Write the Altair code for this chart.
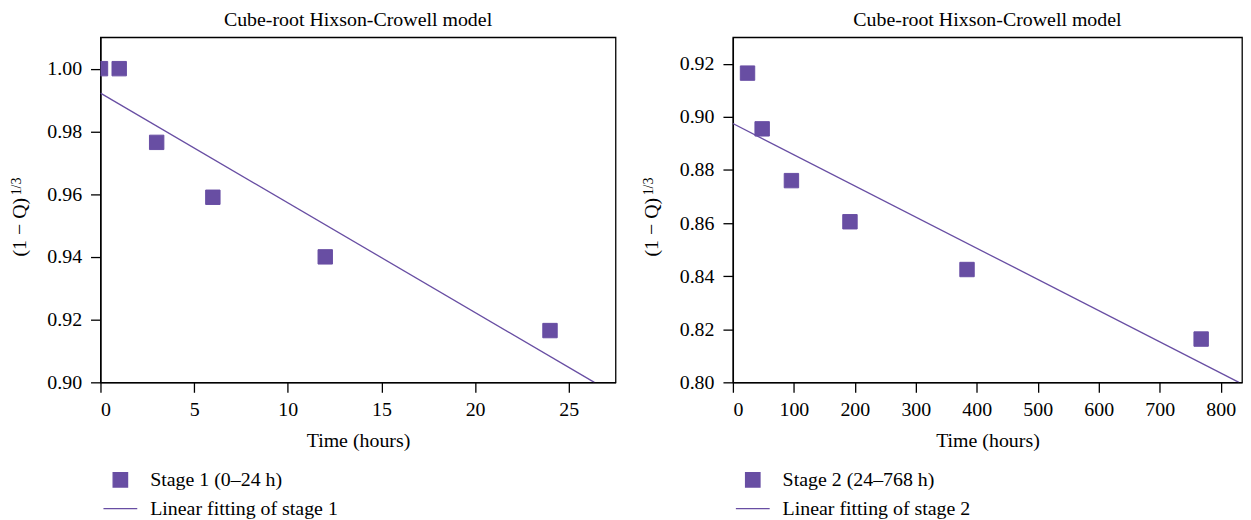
import altair as alt
import pandas as pd

# ---------------- data ----------------
chart_title = "Cube-root Hixson-Crowell model"
x_title = "Time (hours)"
y_title_main = "(1 − Q)"
y_title_sup = "1/3"

# Stage 1
t1 = [0, 1, 3, 6, 12, 24]
q1 = [1.000, 1.000, 0.9765, 0.959, 0.940, 0.9165]
fit1_t = [0, 26.37]
fit1_q = [0.9922, 0.900]
s1_name = "Stage 1 (0–24 h)"
f1_name = "Linear fitting of stage 1"
x1_ticks = [0, 5, 10, 15, 20, 25]
y1_ticks = [0.90, 0.92, 0.94, 0.96, 0.98, 1.00]

# Stage 2
t2 = [24, 48, 96, 192, 384, 768]
q2 = [0.9165, 0.8955, 0.876, 0.8605, 0.8425, 0.8163]
fit2_t = [0, 830]
fit2_q = [0.8975, 0.800]
s2_name = "Stage 2 (24–768 h)"
f2_name = "Linear fitting of stage 2"
x2_ticks = [0, 100, 200, 300, 400, 500, 600, 700, 800]
y2_ticks = [0.80, 0.82, 0.84, 0.86, 0.88, 0.90, 0.92]

PURPLE = "#684ea3"
FONT = "Liberation Serif"


def panel(t, q, ft, fq, sname, fname, xdom, xticks, ydom, yticks, width):
    pts = pd.DataFrame({"t": t, "q": q, "series": [sname] * len(t)})
    fit = pd.DataFrame({"t": ft, "q": fq})
    xs = alt.Scale(domain=xdom, nice=False, zero=False)
    ys = alt.Scale(domain=ydom, nice=False, zero=False)
    xax = alt.Axis(values=xticks, title=x_title, format="d")
    yax = alt.Axis(values=yticks, title=None, format=".2f")
    leg = alt.Legend(
        title=None, orient="none", legendX=2, legendY=435, padding=0,
        labelFont=FONT, labelFontSize=20, labelColor="black", labelLimit=400,
        symbolStrokeWidth=1.3, symbolOpacity=1,
        labelOffset=12, rowPadding=1, direction="vertical",
    )
    dom = [sname, fname]
    line = alt.Chart(fit).mark_line(color=PURPLE, strokeWidth=1.3, clip=True).encode(
        x=alt.X("t:Q", scale=xs, axis=xax),
        y=alt.Y("q:Q", scale=ys, axis=yax),
    )
    points = alt.Chart(pts).mark_point(filled=True, opacity=1, clip=True, strokeWidth=1).encode(
        x=alt.X("t:Q", scale=xs, axis=xax),
        y=alt.Y("q:Q", scale=ys, axis=yax),
        color=alt.Color("series:N", scale=alt.Scale(domain=dom, range=[PURPLE, PURPLE]), legend=leg),
        stroke=alt.Stroke("series:N", scale=alt.Scale(domain=dom, range=[PURPLE, PURPLE]), legend=leg),
        shape=alt.Shape("series:N", scale=alt.Scale(domain=dom, range=["square", "stroke"]), legend=leg),
        size=alt.Size("series:N", scale=alt.Scale(domain=dom, range=[210, 1156]), legend=leg),
    )
    ytitle = alt.Chart(pd.DataFrame({"s": [y_title_main]})).mark_text(
        font=FONT, fontSize=20, color="black", angle=270, align="center", baseline="alphabetic"
    ).encode(text="s:N", x=alt.value(-75), y=alt.value(191))
    ysup = alt.Chart(pd.DataFrame({"s": [y_title_sup]})).mark_text(
        font=FONT, fontSize=14, color="black", angle=270, align="center", baseline="alphabetic"
    ).encode(text="s:N", x=alt.value(-80), y=alt.value(150))
    return alt.layer(line, points, ytitle, ysup).properties(
        width=width, height=347,
        title=alt.TitleParams(chart_title, font=FONT, fontSize=20, fontWeight="normal",
                              color="black", offset=7),
    )


left = panel(t1, q1, fit1_t, fit1_q, s1_name, f1_name, [0, 27.5], x1_ticks, [0.90, 1.01], y1_ticks, 518)
right = panel(t2, q2, fit2_t, fit2_q, s2_name, f2_name, [0, 835], x2_ticks, [0.80, 0.93], y2_ticks, 512)

chart = alt.hconcat(left, right, spacing=118, bounds="flush").resolve_scale(
    color="independent", stroke="independent", shape="independent", size="independent",
    x="independent", y="independent"
).resolve_legend(color="independent", stroke="independent", shape="independent", size="independent").properties(
    padding={"left": 1, "top": 0, "right": 0, "bottom": 0}
).configure_view(
    stroke="black", strokeWidth=1.3
).configure_axis(
    grid=False, domainColor="black", domainWidth=1.3, tickColor="black", tickWidth=1.3, tickSize=10,
    labelFont=FONT, labelFontSize=20, labelColor="black", labelPadding=9,
    titleFont=FONT, titleFontSize=20, titleFontWeight="normal", titleColor="black",
).configure_axisX(labelPadding=7, titlePadding=12)

chart.save("out.html", embed_options={"renderer": "svg", "actions": False})
